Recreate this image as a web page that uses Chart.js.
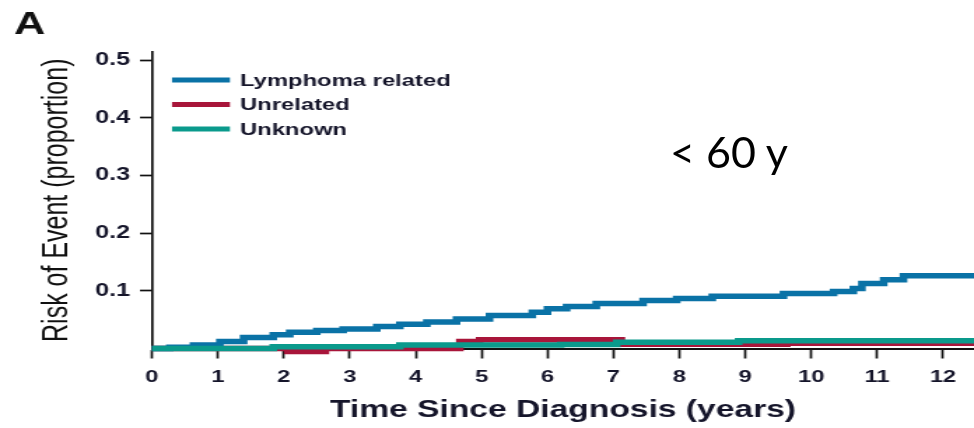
<!DOCTYPE html>
<html>
<head>
<meta charset="utf-8">
<script src="https://cdn.jsdelivr.net/npm/chart.js@4/dist/chart.umd.min.js"></script>
<style>
  html, body { margin: 0; padding: 0; background: #fff; }
  #wrap { position: relative; width: 974px; height: 428px; overflow: hidden; }
  /* the source figure is stretched sideways, so the canvas is too */
  #riskChart { display: block; transform: scaleX(1.3994); transform-origin: 0 0; }
  #note {
    position: absolute; left: 670px; top: 130px;
    font: 43px/43px Lato, "Open Sans", sans-serif; color: #000; white-space: nowrap;
  }
</style>
</head>
<body>
<div id="wrap">
  <canvas id="riskChart" width="696" height="428"></canvas>
  <div id="note">&lt; 60 y</div>
</div>
<script>
const seriesLabels = ['Lymphoma related', 'Unrelated', 'Unknown'];
const seriesColors = ['#0a72a6', '#a8153a', '#0a9a8c'];

const lymphomaTimes = [0, 0.27, 0.63, 1.03, 1.39, 1.84, 2.09, 2.5, 2.9, 3.41, 3.76, 4.17, 4.62, 5.12, 5.77, 6.0, 6.29, 6.74, 7.45, 7.96, 8.5, 9.58, 10.34, 10.64, 10.77, 11.1, 11.4, 12.47];
const lymphomaRisk = [0, 0.002, 0.006, 0.012, 0.019, 0.024, 0.028, 0.031, 0.034, 0.038, 0.042, 0.046, 0.051, 0.057, 0.063, 0.069, 0.073, 0.078, 0.083, 0.0865, 0.0905, 0.0955, 0.099, 0.104, 0.1125, 0.119, 0.126, 0.126];

const unrelatedTimes = [0, 2.06, 2.63, 4.67, 4.97, 7.12, 9.63, 12.47];
const unrelatedRisk = [0, -0.005, 0, 0.012, 0.015, 0.0075, 0.009, 0.009];

const unknownTimes = [0, 1.84, 3.76, 6.2, 7.05, 8.9, 12.47];
const unknownRisk = [0, 0.003, 0.006, 0.007, 0.011, 0.0135, 0.0135];

const timeTicks = [0, 1, 2, 3, 4, 5, 6, 7, 8, 9, 10, 11, 12];
const riskTicks = [0.1, 0.2, 0.3, 0.4, 0.5];
const panelLetter = 'A';

const toPoints = (times, values) => times.map((t, i) => ({ x: t, y: values[i] }));

const inkColor = '#15152a';
const mainFont = '"Liberation Sans", Arial, Helvetica, sans-serif';

const stepLine = (i, points, order) => ({
  label: seriesLabels[i],
  data: points,
  borderColor: seriesColors[i],
  backgroundColor: seriesColors[i],
  borderWidth: 5.5,
  stepped: true,
  pointRadius: 0,
  fill: false,
  clip: false,
  order: order,
});

// legend and panel letter sit inside the plot, drawn by hand
const overlay = {
  id: 'overlay',
  afterDraw(chart) {
    const ctx = chart.ctx;
    ctx.save();
    ctx.fillStyle = '#111';
    ctx.textBaseline = 'alphabetic';
    ctx.font = 'bold 31px ' + mainFont;
    ctx.fillText(panelLetter, 10, 34);

    ctx.font = 'bold 17px ' + mainFont;
    ctx.textBaseline = 'middle';
    ctx.fillStyle = inkColor;
    chart.data.datasets.forEach((ds, i) => {
      const y = 80 + i * 24.5;
      ctx.strokeStyle = ds.borderColor;
      ctx.lineWidth = 5;
      ctx.beginPath();
      ctx.moveTo(122.9, y);
      ctx.lineTo(164.3, y);
      ctx.stroke();
      ctx.fillText(ds.label, 171.5, y + 1);
    });
    ctx.restore();
  },
};

const ctx = document.getElementById('riskChart').getContext('2d');

new Chart(ctx, {
  type: 'line',
  data: {
    datasets: [
      stepLine(0, toPoints(lymphomaTimes, lymphomaRisk), 1),
      stepLine(1, toPoints(unrelatedTimes, unrelatedRisk), 2),
      stepLine(2, toPoints(unknownTimes, unknownRisk), 0),
    ],
  },
  options: {
    responsive: false,
    animation: false,
    devicePixelRatio: 1,
    layout: { padding: { top: 52, right: 0, bottom: 0, left: 0 } },
    plugins: {
      legend: { display: false },
      tooltip: { enabled: false },
    },
    scales: {
      x: {
        type: 'linear',
        min: 0,
        max: 12.47,
        afterBuildTicks: (scale) => { scale.ticks = timeTicks.map((v) => ({ value: v })); },
        afterFit: (scale) => { scale.height = 428 - 348.5; },
        ticks: {
          color: inkColor,
          font: { family: mainFont, size: 17, weight: 'bold' },
          padding: 8.3,
          maxRotation: 0,
          autoSkip: false,
        },
        grid: { drawOnChartArea: false, tickLength: 10, tickWidth: 1.7, tickColor: '#111' },
        border: { color: '#111', width: 2 },
        title: {
          display: true,
          text: 'Time Since Diagnosis (years)',
          color: inkColor,
          font: { family: mainFont, size: 24, weight: 'bold' },
          padding: { top: 0, bottom: 3.6 },
        },
      },
      y: {
        min: 0,
        max: 0.514,
        afterBuildTicks: (scale) => { scale.ticks = riskTicks.map((v) => ({ value: v })); },
        afterFit: (scale) => { scale.width = 108.6; },
        ticks: {
          color: inkColor,
          font: { family: mainFont, size: 18, weight: 'bold' },
          padding: 7.1,
          callback: (v) => v.toFixed(1),
        },
        grid: { drawOnChartArea: false, tickLength: 8.6, tickWidth: 1.7, tickColor: '#111' },
        border: { color: '#111', width: 1.7 },
        title: {
          display: true,
          text: 'Risk of Event (proportion)',
          color: '#111',
          font: { family: mainFont, size: 25, weight: 'normal' },
          padding: { top: 26.4, bottom: 0 },
        },
      },
    },
  },
  plugins: [overlay],
});
</script>
</body>
</html>
